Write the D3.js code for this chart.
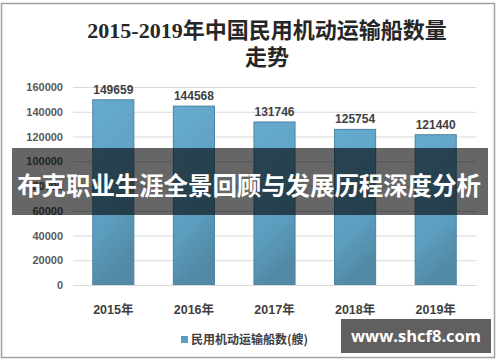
<!DOCTYPE html>
<html lang="zh">
<head>
    <meta charset="UTF-8">
    <title>2015-2019年中国民用机动运输船数量走势</title>
    <script src="https://d3js.org/d3.v7.min.js"></script>
</head>
<style>
    body {
        margin: 0;
        padding: 0;
        background: #fff;
    }
    svg {
        display: block;
    }
    .tick text {
        font-family: "Liberation Sans", "Noto Sans CJK SC", sans-serif;
    }
</style>
<body>
<div class="chart"></div>
<script>
  // data
  var years = ['2015年', '2016年', '2017年', '2018年', '2019年'];
  var ships = [149659, 144568, 131746, 125754, 121440];
  var yTicks = [0, 20000, 40000, 60000, 80000, 100000, 120000, 140000, 160000];

  var titleLines = ['2015-2019年中国民用机动运输船数量', '走势'];
  var legendLabel = '民用机动运输船数(艘)';
  var bannerText = '布克职业生涯全景回顾与发展历程深度分析';
  var watermarkText = 'www.shcf8.com';

  var width = 500, height = 362;
  var plot = {left: 73, right: 476, top: 85, bottom: 285};

  var svg = d3.select('.chart').append('svg')
    .attr('width', width)
    .attr('height', height);

  // gradient for the bars
  var defs = svg.append('defs');
  var grad = defs.append('linearGradient')
    .attr('id', 'barGrad')
    .attr('x1', 0).attr('y1', 0).attr('x2', 0.25).attr('y2', 1);
  grad.append('stop').attr('offset', '0%').attr('stop-color', '#66abcf');
  grad.append('stop').attr('offset', '70%').attr('stop-color', '#5d9ec0');
  grad.append('stop').attr('offset', '100%').attr('stop-color', '#528aa6');

  // outer frame
  svg.append('rect')
    .attr('x', 1.5).attr('y', 3.5)
    .attr('width', 493).attr('height', 354)
    .attr('fill', 'none')
    .attr('stroke', '#a0a0a0')
    .attr('stroke-width', 1.5);

  // title
  var title = svg.append('text')
    .attr('text-anchor', 'middle')
    .attr('font-family', '"Liberation Serif", "Noto Sans CJK SC", serif')
    .attr('font-weight', 'bold')
    .attr('font-size', 22)
    .attr('fill', '#262626');
  title.selectAll('tspan')
    .data(titleLines)
    .enter().append('tspan')
    .attr('x', 267)
    .attr('y', function (d, i) { return 38 + i * 27; })
    .text(function (d) { return d; });

  /** scales */
  var x = d3.scaleBand()
    .domain(years)
    .range([plot.left, plot.right])
    .paddingInner(0.49)
    .paddingOuter(0.245);

  var y = d3.scaleLinear()
    .domain([0, 160000])
    .range([plot.bottom, plot.top + 2]);

  // gridlines + y labels
  var yAxis = d3.axisLeft(y)
    .tickValues(yTicks)
    .tickSize(-(plot.right - plot.left))
    .tickPadding(10)
    .tickFormat(d3.format('d'));

  var yG = svg.append('g')
    .attr('transform', 'translate(' + plot.left + ',0)')
    .call(yAxis);
  yG.select('.domain').remove();
  yG.selectAll('.tick line').attr('stroke', '#d9d9d9');
  yG.selectAll('.tick text')
    .attr('fill', '#595959')
    .attr('font-size', 11)
    .attr('font-weight', 'bold');

  // bars
  svg.append('g')
    .selectAll('rect')
    .data(ships)
    .enter().append('rect')
    .attr('x', function (d, i) { return x(years[i]); })
    .attr('y', function (d) { return y(d); })
    .attr('width', x.bandwidth())
    .attr('height', function (d) { return y(0) - y(d); })
    .attr('fill', 'url(#barGrad)')
    .attr('stroke', '#4a84a2')
    .attr('stroke-width', 1);

  // value labels
  svg.append('g')
    .selectAll('text')
    .data(ships)
    .enter().append('text')
    .attr('x', function (d, i) { return x(years[i]) + x.bandwidth() / 2; })
    .attr('y', function (d) { return y(d) - 6; })
    .attr('text-anchor', 'middle')
    .attr('font-family', '"Liberation Sans", sans-serif')
    .attr('font-weight', 'bold')
    .attr('font-size', 12)
    .attr('fill', '#404040')
    .text(function (d) { return d; });

  // x axis
  var xAxis = d3.axisBottom(x).tickSize(0).tickPadding(20);
  var xG = svg.append('g')
    .attr('transform', 'translate(0,' + plot.bottom + ')')
    .call(xAxis);
  xG.select('.domain').attr('stroke', '#d9d9d9');
  xG.selectAll('.tick text')
    .attr('fill', '#404040')
    .attr('font-size', 12.5)
    .attr('font-weight', 'bold');

  // legend
  var legend = svg.append('g').attr('transform', 'translate(181,336)');
  legend.append('rect')
    .attr('width', 7).attr('height', 7)
    .attr('fill', '#5d9ec0');
  legend.append('text')
    .attr('x', 10).attr('y', 8)
    .attr('font-family', '"Noto Sans CJK SC", sans-serif')
    .attr('font-weight', 'bold')
    .attr('font-size', 12)
    .attr('fill', '#404040')
    .text(legendLabel);

  // overlay banner (covers the axis labels behind it, as in the picture)
  svg.append('rect')
    .attr('x', 12).attr('y', 148)
    .attr('width', 476).attr('height', 67)
    .attr('fill', 'rgba(0,0,0,0.6)');
  svg.append('text')
    .attr('x', 249).attr('y', 195)
    .attr('text-anchor', 'middle')
    .attr('font-family', '"Noto Sans CJK SC", sans-serif')
    .attr('font-weight', 'bold')
    .attr('font-size', 24.5)
    .attr('letter-spacing', -0.1)
    .attr('fill', '#fff')
    .text(bannerText);

  // watermark
  svg.append('rect')
    .attr('x', 341).attr('y', 319)
    .attr('width', 150).attr('height', 34)
    .attr('fill', '#606060');
  svg.append('text')
    .attr('x', 416).attr('y', 342)
    .attr('text-anchor', 'middle')
    .attr('font-family', '"Open Sans", "Noto Sans", sans-serif')
    .attr('font-weight', 'bold')
    .attr('font-size', 16.5)
    .attr('fill', '#fff')
    .text(watermarkText);
</script>
</body>
</html>
